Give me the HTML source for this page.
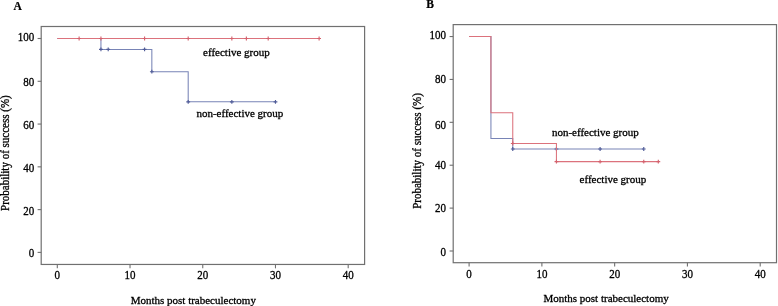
<!DOCTYPE html>
<html><head><meta charset="utf-8"><style>
html,body{margin:0;padding:0;background:#fff;}
body{width:778px;height:306px;overflow:hidden;}
svg{display:block;filter:blur(0.35px);}
.t{font-family:"Liberation Serif",serif;font-size:11.5px;fill:#000;stroke:#000;stroke-width:0.3px;}
.b{font-family:"Liberation Serif",serif;font-size:11.5px;font-weight:bold;fill:#000;stroke:#000;stroke-width:0.2px;}
</style></head><body>
<svg width="778" height="306" viewBox="0 0 778 306">
<rect width="778" height="306" fill="#fff"/>
<rect x="41.2" y="26.5" width="323.40" height="237.95" fill="none" stroke="#707070" stroke-width="1.2"/>
<line x1="37.60" y1="252.40" x2="41.2" y2="252.40" stroke="#707070" stroke-width="1.1"/>
<text transform="translate(34.20,256.85) scale(0.9565,1)" text-anchor="end" class="t">0</text>
<line x1="37.60" y1="209.62" x2="41.2" y2="209.62" stroke="#707070" stroke-width="1.1"/>
<text transform="translate(34.20,214.70) scale(0.9565,1)" text-anchor="end" class="t">20</text>
<line x1="37.60" y1="166.84" x2="41.2" y2="166.84" stroke="#707070" stroke-width="1.1"/>
<text transform="translate(34.20,171.65) scale(0.9565,1)" text-anchor="end" class="t">40</text>
<line x1="37.60" y1="124.06" x2="41.2" y2="124.06" stroke="#707070" stroke-width="1.1"/>
<text transform="translate(34.20,128.70) scale(0.9565,1)" text-anchor="end" class="t">60</text>
<line x1="37.60" y1="81.28" x2="41.2" y2="81.28" stroke="#707070" stroke-width="1.1"/>
<text transform="translate(34.20,85.65) scale(0.9565,1)" text-anchor="end" class="t">80</text>
<line x1="37.60" y1="38.50" x2="41.2" y2="38.50" stroke="#707070" stroke-width="1.1"/>
<text transform="translate(34.20,41.15) scale(0.9565,1)" text-anchor="end" class="t">100</text>
<line x1="57.30" y1="264.45" x2="57.30" y2="268.35" stroke="#707070" stroke-width="1.1"/>
<text transform="translate(57.30,279.25) scale(0.9565,1)" text-anchor="middle" class="t">0</text>
<line x1="130.02" y1="264.45" x2="130.02" y2="268.35" stroke="#707070" stroke-width="1.1"/>
<text transform="translate(130.02,279.25) scale(0.9565,1)" text-anchor="middle" class="t">10</text>
<line x1="202.75" y1="264.45" x2="202.75" y2="268.35" stroke="#707070" stroke-width="1.1"/>
<text transform="translate(202.75,279.25) scale(0.9565,1)" text-anchor="middle" class="t">20</text>
<line x1="275.48" y1="264.45" x2="275.48" y2="268.35" stroke="#707070" stroke-width="1.1"/>
<text transform="translate(275.48,279.25) scale(0.9565,1)" text-anchor="middle" class="t">30</text>
<line x1="348.20" y1="264.45" x2="348.20" y2="268.35" stroke="#707070" stroke-width="1.1"/>
<text transform="translate(348.20,279.25) scale(0.9565,1)" text-anchor="middle" class="t">40</text>
<path d="M57.30,38.50H100.94V49.40H151.84V71.70H188.20V101.80H275.48" stroke="#7884b6" stroke-width="1.05" fill="none"/>
<path d="M99.03,49.40h3.8M100.94,47.50v3.8M106.31,49.40h3.8M108.21,47.50v3.8M142.67,49.40h3.8M144.57,47.50v3.8M149.94,71.70h3.8M151.84,69.80v3.8M186.30,101.80h3.8M188.20,99.90v3.8M229.94,101.80h3.8M231.84,99.90v3.8M273.58,101.80h3.8M275.48,99.90v3.8" stroke="#505c98" stroke-width="1.15" fill="none"/>
<path d="M57.30,38.50H319.11" stroke="#dc727c" stroke-width="1.05" fill="none"/>
<path d="M77.22,38.50h3.8M79.12,36.60v3.8M99.03,38.50h3.8M100.94,36.60v3.8M142.67,38.50h3.8M144.57,36.60v3.8M186.30,38.50h3.8M188.20,36.60v3.8M229.94,38.50h3.8M231.84,36.60v3.8M244.48,38.50h3.8M246.38,36.60v3.8M266.30,38.50h3.8M268.20,36.60v3.8M317.21,38.50h3.8M319.11,36.60v3.8" stroke="#d4626e" stroke-width="1.15" fill="none"/>
<text transform="translate(203.10,55.80)" class="t" style="font-size:11.0px">effective group</text>
<text transform="translate(196.40,116.90)" class="t" style="font-size:11.0px">non-effective group</text>
<text x="13.6" y="9.8" class="b">A</text>
<text transform="translate(8.70,153.10) rotate(-90) scale(0.9565,1)" text-anchor="middle" class="t">Probability of success (%)</text>
<text transform="translate(193.30,303.80)" text-anchor="middle" class="t" style="font-size:11.0px">Months post trabeculectomy</text>
<rect x="453.2" y="24.6" width="323.30" height="238.10" fill="none" stroke="#707070" stroke-width="1.2"/>
<line x1="449.60" y1="251.00" x2="453.2" y2="251.00" stroke="#707070" stroke-width="1.1"/>
<text transform="translate(446.00,255.80) scale(0.9565,1)" text-anchor="end" class="t">0</text>
<line x1="449.60" y1="208.11" x2="453.2" y2="208.11" stroke="#707070" stroke-width="1.1"/>
<text transform="translate(446.00,212.45) scale(0.9565,1)" text-anchor="end" class="t">20</text>
<line x1="449.60" y1="165.22" x2="453.2" y2="165.22" stroke="#707070" stroke-width="1.1"/>
<text transform="translate(446.00,169.05) scale(0.9565,1)" text-anchor="end" class="t">40</text>
<line x1="449.60" y1="122.33" x2="453.2" y2="122.33" stroke="#707070" stroke-width="1.1"/>
<text transform="translate(446.00,128.50) scale(0.9565,1)" text-anchor="end" class="t">60</text>
<line x1="449.60" y1="79.44" x2="453.2" y2="79.44" stroke="#707070" stroke-width="1.1"/>
<text transform="translate(446.00,83.05) scale(0.9565,1)" text-anchor="end" class="t">80</text>
<line x1="449.60" y1="36.55" x2="453.2" y2="36.55" stroke="#707070" stroke-width="1.1"/>
<text transform="translate(446.00,38.95) scale(0.9565,1)" text-anchor="end" class="t">100</text>
<line x1="469.10" y1="262.7" x2="469.10" y2="266.60" stroke="#707070" stroke-width="1.1"/>
<text transform="translate(469.10,277.50) scale(0.9565,1)" text-anchor="middle" class="t">0</text>
<line x1="541.88" y1="262.7" x2="541.88" y2="266.60" stroke="#707070" stroke-width="1.1"/>
<text transform="translate(541.88,277.50) scale(0.9565,1)" text-anchor="middle" class="t">10</text>
<line x1="614.65" y1="262.7" x2="614.65" y2="266.60" stroke="#707070" stroke-width="1.1"/>
<text transform="translate(614.65,277.50) scale(0.9565,1)" text-anchor="middle" class="t">20</text>
<line x1="687.42" y1="262.7" x2="687.42" y2="266.60" stroke="#707070" stroke-width="1.1"/>
<text transform="translate(687.42,277.50) scale(0.9565,1)" text-anchor="middle" class="t">30</text>
<line x1="760.20" y1="262.7" x2="760.20" y2="266.60" stroke="#707070" stroke-width="1.1"/>
<text transform="translate(760.20,277.50) scale(0.9565,1)" text-anchor="middle" class="t">40</text>
<path d="M469.10,36.50H490.93V138.50H512.76V149.00H643.76" stroke="#7884b6" stroke-width="1.05" fill="none"/>
<path d="M510.87,149.00h3.8M512.76,147.10v3.8M554.53,149.00h3.8M556.43,147.10v3.8M598.20,149.00h3.8M600.10,147.10v3.8M641.86,149.00h3.8M643.76,147.10v3.8" stroke="#505c98" stroke-width="1.15" fill="none"/>
<path d="M469.10,36.50H490.93V112.80H512.76V143.50H556.43V161.60H658.32" stroke="#dc727c" stroke-width="1.05" fill="none"/>
<path d="M510.87,143.50h3.8M512.76,141.60v3.8M554.53,161.60h3.8M556.43,159.70v3.8M598.20,161.60h3.8M600.10,159.70v3.8M641.86,161.60h3.8M643.76,159.70v3.8M656.42,161.60h3.8M658.32,159.70v3.8" stroke="#d4626e" stroke-width="1.15" fill="none"/>
<text transform="translate(579.60,183.10)" class="t" style="font-size:11.0px">effective group</text>
<text transform="translate(551.90,135.70)" class="t" style="font-size:11.0px">non-effective group</text>
<text x="426.2" y="7.7" class="b">B</text>
<text transform="translate(420.70,151.00) rotate(-90) scale(0.9565,1)" text-anchor="middle" class="t">Probability of success (%)</text>
<text transform="translate(606.10,302.00)" text-anchor="middle" class="t" style="font-size:11.0px">Months post trabeculectomy</text>
</svg>
</body></html>
